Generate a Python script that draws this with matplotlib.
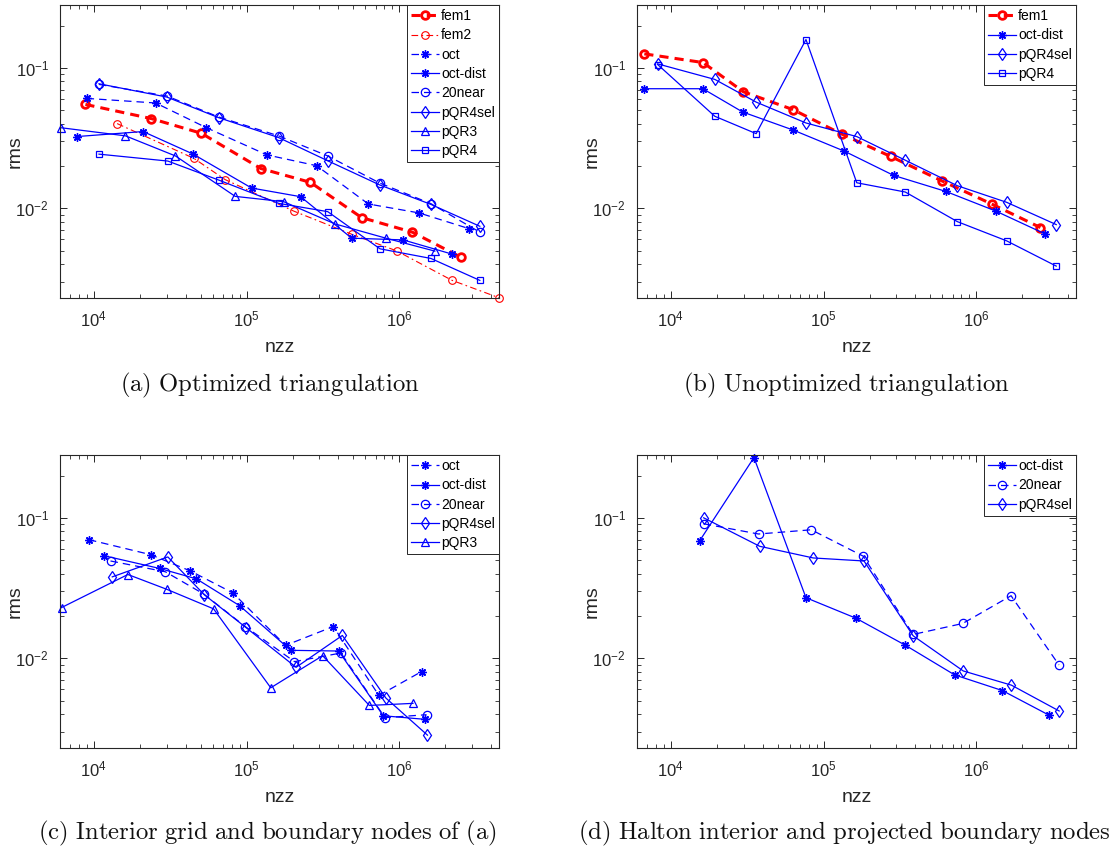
"""
rms error vs. nzz for the four node-placement experiments (2x2 log-log panels).
"""
import matplotlib
matplotlib.use('Agg')
import matplotlib.pyplot as plt
from matplotlib.ticker import LogLocator, NullFormatter

plt.rcParams.update({
    'font.family': ['Liberation Sans', 'DejaVu Sans'],
    'mathtext.fontset': 'custom',
    'mathtext.rm': 'Liberation Sans',
    'mathtext.it': 'Liberation Sans:italic',
    'mathtext.bf': 'Liberation Sans:bold',
    'axes.linewidth': 0.8,
    'axes.edgecolor': '#262626',
    'xtick.color': '#262626',
    'ytick.color': '#262626',
})

RED = '#ff0000'
BLUE = '#0000ff'
DARK = '#262626'

# ── (a) optimized triangulation ─────────────────────────────────────
A_FEM1_X = [8.8e3, 2.38e4, 5.06e4, 1.24e5, 2.62e5, 5.67e5, 1.22e6, 2.55e6]
A_FEM1_Y = [0.0549, 0.0435, 0.0342, 0.0192, 0.0153, 0.00859, 0.00676, 0.00447]
A_FEM2_X = [1.42e4, 4.51e4, 7.25e4, 2.03e5, 4.88e5, 9.61e5, 2.22e6, 4.5e6]
A_FEM2_Y = [0.0401, 0.0227, 0.0160, 0.00957, 0.00654, 0.00498, 0.00307, 0.00231]
A_OCT_X = [8.96e3, 2.54e4, 5.45e4, 1.36e5, 2.88e5, 6.27e5, 1.35e6, 2.85e6]
A_OCT_Y = [0.0606, 0.0562, 0.0375, 0.0240, 0.0201, 0.01074, 0.00927, 0.00718]
A_OCTD_X = [7.70e3, 2.10e4, 4.44e4, 1.08e5, 2.26e5, 4.88e5, 1.06e6, 2.22e6]
A_OCTD_Y = [0.0324, 0.0352, 0.0244, 0.01394, 0.0121, 0.00613, 0.00596, 0.00472]
A_NEAR_X = [1.08e4, 3.01e4, 6.56e4, 1.62e5, 3.40e5, 7.48e5, 1.61e6, 3.37e6]
A_NEAR_Y = [0.0762, 0.063, 0.0447, 0.0328, 0.0236, 0.0151, 0.0108, 0.00676]
A_SEL_X = [1.08e4, 3.01e4, 6.56e4, 1.62e5, 3.40e5, 7.48e5, 1.61e6, 3.37e6]
A_SEL_Y = [0.077, 0.0619, 0.0442, 0.0319, 0.0218, 0.01464, 0.01067, 0.00745]
A_QR3_X = [6.05e3, 1.61e4, 3.42e4, 8.43e4, 1.75e5, 3.80e5, 8.18e5, 1.71e6]
A_QR3_Y = [0.0375, 0.0328, 0.0236, 0.01216, 0.01115, 0.00774, 0.00613, 0.00496]
A_QR4_X = [1.08e4, 3.05e4, 6.56e4, 1.62e5, 3.40e5, 7.48e5, 1.61e6, 3.37e6]
A_QR4_Y = [0.0243, 0.0217, 0.0159, 0.01085, 0.00947, 0.00515, 0.0044, 0.00307]

# ── (b) unoptimized triangulation ───────────────────────────────────
B_FEM1_X = [6.70e3, 1.625e4, 2.98e4, 6.31e4, 1.32e5, 2.75e5, 5.94e5, 1.26e6, 2.63e6]
B_FEM1_Y = [0.1257, 0.109, 0.0676, 0.0504, 0.0337, 0.0234, 0.0157, 0.01074, 0.0073]
B_OCTD_X = [6.70e3, 1.62e4, 2.95e4, 6.31e4, 1.37e5, 2.88e5, 6.31e5, 1.34e6, 2.80e6]
B_OCTD_Y = [0.071, 0.071, 0.0485, 0.0361, 0.0255, 0.01714, 0.0132, 0.00957, 0.0066]
B_SEL_X = [8.19e3, 1.94e4, 3.62e4, 7.67e4, 1.65e5, 3.43e5, 7.52e5, 1.58e6, 3.34e6]
B_SEL_Y = [0.1067, 0.0827, 0.057, 0.0405, 0.0324, 0.022, 0.01448, 0.01104, 0.00766]
B_QR4_X = [8.19e3, 1.94e4, 3.62e4, 7.67e4, 1.65e5, 3.43e5, 7.52e5, 1.58e6, 3.34e6]
B_QR4_Y = [0.1056, 0.0452, 0.034, 0.159, 0.0152, 0.01306, 0.00804, 0.00587, 0.00388]

# ── (c) interior grid + boundary nodes of (a) ───────────────────────
C_OCT_X = [9.28e3, 2.35e4, 4.28e4, 8.14e4, 1.80e5, 3.70e5, 7.36e5, 1.40e6]
C_OCT_Y = [0.0699, 0.0547, 0.0419, 0.0292, 0.01236, 0.01684, 0.00544, 0.00805]
C_OCTD_X = [1.16e4, 2.70e4, 4.69e4, 9.0e4, 1.95e5, 4.01e5, 7.86e5, 1.47e6]
C_OCTD_Y = [0.0538, 0.0436, 0.0368, 0.0237, 0.0114, 0.01127, 0.0039, 0.00368]
C_NEAR_X = [1.285e4, 2.94e4, 5.24e4, 9.8e4, 2.06e5, 4.15e5, 8.06e5, 1.51e6]
C_NEAR_Y = [0.0493, 0.0413, 0.0287, 0.01684, 0.00947, 0.01091, 0.00378, 0.00397]
C_SEL_X = [1.32e4, 3.05e4, 5.28e4, 9.9e4, 2.11e5, 4.24e5, 8.18e5, 1.53e6]
C_SEL_Y = [0.038, 0.0527, 0.0284, 0.01657, 0.00863, 0.01455, 0.00521, 0.00284]
C_QR3_X = [6.15e3, 1.67e4, 3.0e4, 6.08e4, 1.44e5, 3.15e5, 6.37e5, 1.23e6]
C_QR3_Y = [0.023, 0.0395, 0.031, 0.0225, 0.00617, 0.01044, 0.00462, 0.00478]

# ── (d) Halton interior + projected boundary nodes ──────────────────
D_OCTD_X = [1.546e4, 3.50e4, 7.67e4, 1.63e5, 3.43e5, 7.22e5, 1.48e6, 3.01e6]
D_OCTD_Y = [0.0688, 0.2686, 0.027, 0.0193, 0.0124, 0.00762, 0.0059, 0.00393]
D_NEAR_X = [1.64e4, 3.75e4, 8.31e4, 1.82e5, 3.86e5, 8.15e5, 1.69e6, 3.48e6]
D_NEAR_Y = [0.0907, 0.0767, 0.0822, 0.0533, 0.01479, 0.0177, 0.0279, 0.00897]
D_SEL_X = [1.64e4, 3.82e4, 8.56e4, 1.84e5, 3.86e5, 8.22e5, 1.70e6, 3.49e6]
D_SEL_Y = [0.1, 0.0627, 0.0518, 0.0493, 0.01447, 0.00813, 0.00644, 0.00422]

CAPTIONS = [
    '(a) Optimized triangulation',
    '(b) Unoptimized triangulation',
    '(c) Interior grid and boundary nodes of (a)',
    '(d) Halton interior and projected boundary nodes',
]

DASH = (0, (6, 4))
DASHDOT = (0, (6, 3, 1.5, 3))
ASTERISK = (8, 2, 0)

# line style per method
STYLE = {
    'fem1':    dict(color=RED, ls=(0, (3, 2)), lw=2.2, marker='o', ms=5.5,
                    mew=2.0, mfc='none'),
    'fem2':    dict(color=RED, ls=DASHDOT, lw=0.8, marker='o', ms=5.5,
                    mew=0.8, mfc='none'),
    'oct':     dict(color=BLUE, ls=DASH, lw=0.9, marker=ASTERISK, ms=6,
                    mew=1.0),
    'oct-dist': dict(color=BLUE, ls='-', lw=0.9, marker=ASTERISK, ms=6,
                     mew=1.0),
    '20near':  dict(color=BLUE, ls=DASH, lw=0.9, marker='o', ms=6,
                    mew=0.9, mfc='none'),
    'pQR4sel': dict(color=BLUE, ls='-', lw=0.9, marker='d', ms=6.5,
                    mew=0.9, mfc='none'),
    'pQR3':    dict(color=BLUE, ls='-', lw=0.9, marker='^', ms=6,
                    mew=0.9, mfc='none'),
    'pQR4':    dict(color=BLUE, ls='-', lw=0.9, marker='s', ms=4.5,
                    mew=0.9, mfc='none'),
}

PANELS = [
    [('fem1', A_FEM1_X, A_FEM1_Y), ('fem2', A_FEM2_X, A_FEM2_Y),
     ('oct', A_OCT_X, A_OCT_Y), ('oct-dist', A_OCTD_X, A_OCTD_Y),
     ('20near', A_NEAR_X, A_NEAR_Y), ('pQR4sel', A_SEL_X, A_SEL_Y),
     ('pQR3', A_QR3_X, A_QR3_Y), ('pQR4', A_QR4_X, A_QR4_Y)],
    [('fem1', B_FEM1_X, B_FEM1_Y), ('oct-dist', B_OCTD_X, B_OCTD_Y),
     ('pQR4sel', B_SEL_X, B_SEL_Y), ('pQR4', B_QR4_X, B_QR4_Y)],
    [('oct', C_OCT_X, C_OCT_Y), ('oct-dist', C_OCTD_X, C_OCTD_Y),
     ('20near', C_NEAR_X, C_NEAR_Y), ('pQR4sel', C_SEL_X, C_SEL_Y),
     ('pQR3', C_QR3_X, C_QR3_Y)],
    [('oct-dist', D_OCTD_X, D_OCTD_Y), ('20near', D_NEAR_X, D_NEAR_Y),
     ('pQR4sel', D_SEL_X, D_SEL_Y)],
]

W, H = 1120, 852
fig = plt.figure(figsize=(W / 100, H / 100), dpi=100)

# axes boxes in pixels: left, top, right, bottom
BOXES = [(60, 5, 499, 298), (637, 5, 1076, 298),
         (60, 455, 499, 748), (637, 455, 1076, 748)]
CAP_POS = [(120, 385), (683, 385), (38, 833), (578, 833)]

for i, series in enumerate(PANELS):
    l, t, r, b = BOXES[i]
    ax = fig.add_axes([l / W, 1 - b / H, (r - l) / W, (b - t) / H])
    for name, xs, ys in series:
        ax.plot(xs, ys, label=name, clip_on=False, **STYLE[name])

    ax.set_xscale('log')
    ax.set_yscale('log')
    ax.set_xlim(6e3, 4.5e6)
    ax.set_ylim(2.3e-3, 0.28)
    ax.xaxis.set_minor_locator(LogLocator(base=10, subs=range(2, 10), numticks=20))
    ax.yaxis.set_minor_locator(LogLocator(base=10, subs=range(2, 10), numticks=20))
    ax.xaxis.set_minor_formatter(NullFormatter())
    ax.yaxis.set_minor_formatter(NullFormatter())
    ax.tick_params(which='both', direction='in', top=True, right=True,
                   labelsize=12, labelcolor=DARK)
    ax.tick_params(which='major', length=5, width=0.7, pad=8)
    ax.tick_params(which='minor', length=2.8, width=0.6)

    ax.set_xlabel('nzz', fontsize=14, color=DARK)
    ax.xaxis.set_label_coords(0.5, -50 / (b - t))
    ax.xaxis.label.set_va('center')
    ax.set_ylabel('rms', fontsize=14, color=DARK)
    ax.yaxis.set_label_coords(-(l - 15 - (0 if i % 2 == 0 else 577)) / (r - l), 0.5)
    ax.yaxis.label.set_va('center')

    leg = ax.legend(loc='upper right', fontsize=10, borderaxespad=0,
                    fancybox=False, framealpha=1, edgecolor=DARK,
                    handlelength=2.0, handletextpad=0.15, borderpad=0.3,
                    labelspacing=0.38)
    leg.get_frame().set_linewidth(0.7)

    cx, cy = CAP_POS[i]
    label = CAPTIONS[i].replace(' ', r'\ ')
    fig.text(cx / W, 1 - cy / H, r'$\mathrm{' + label + '}$', fontsize=17.8,
             ha='left', va='center', math_fontfamily='cm', color='#111111')

fig.savefig('out.png', dpi=100)
